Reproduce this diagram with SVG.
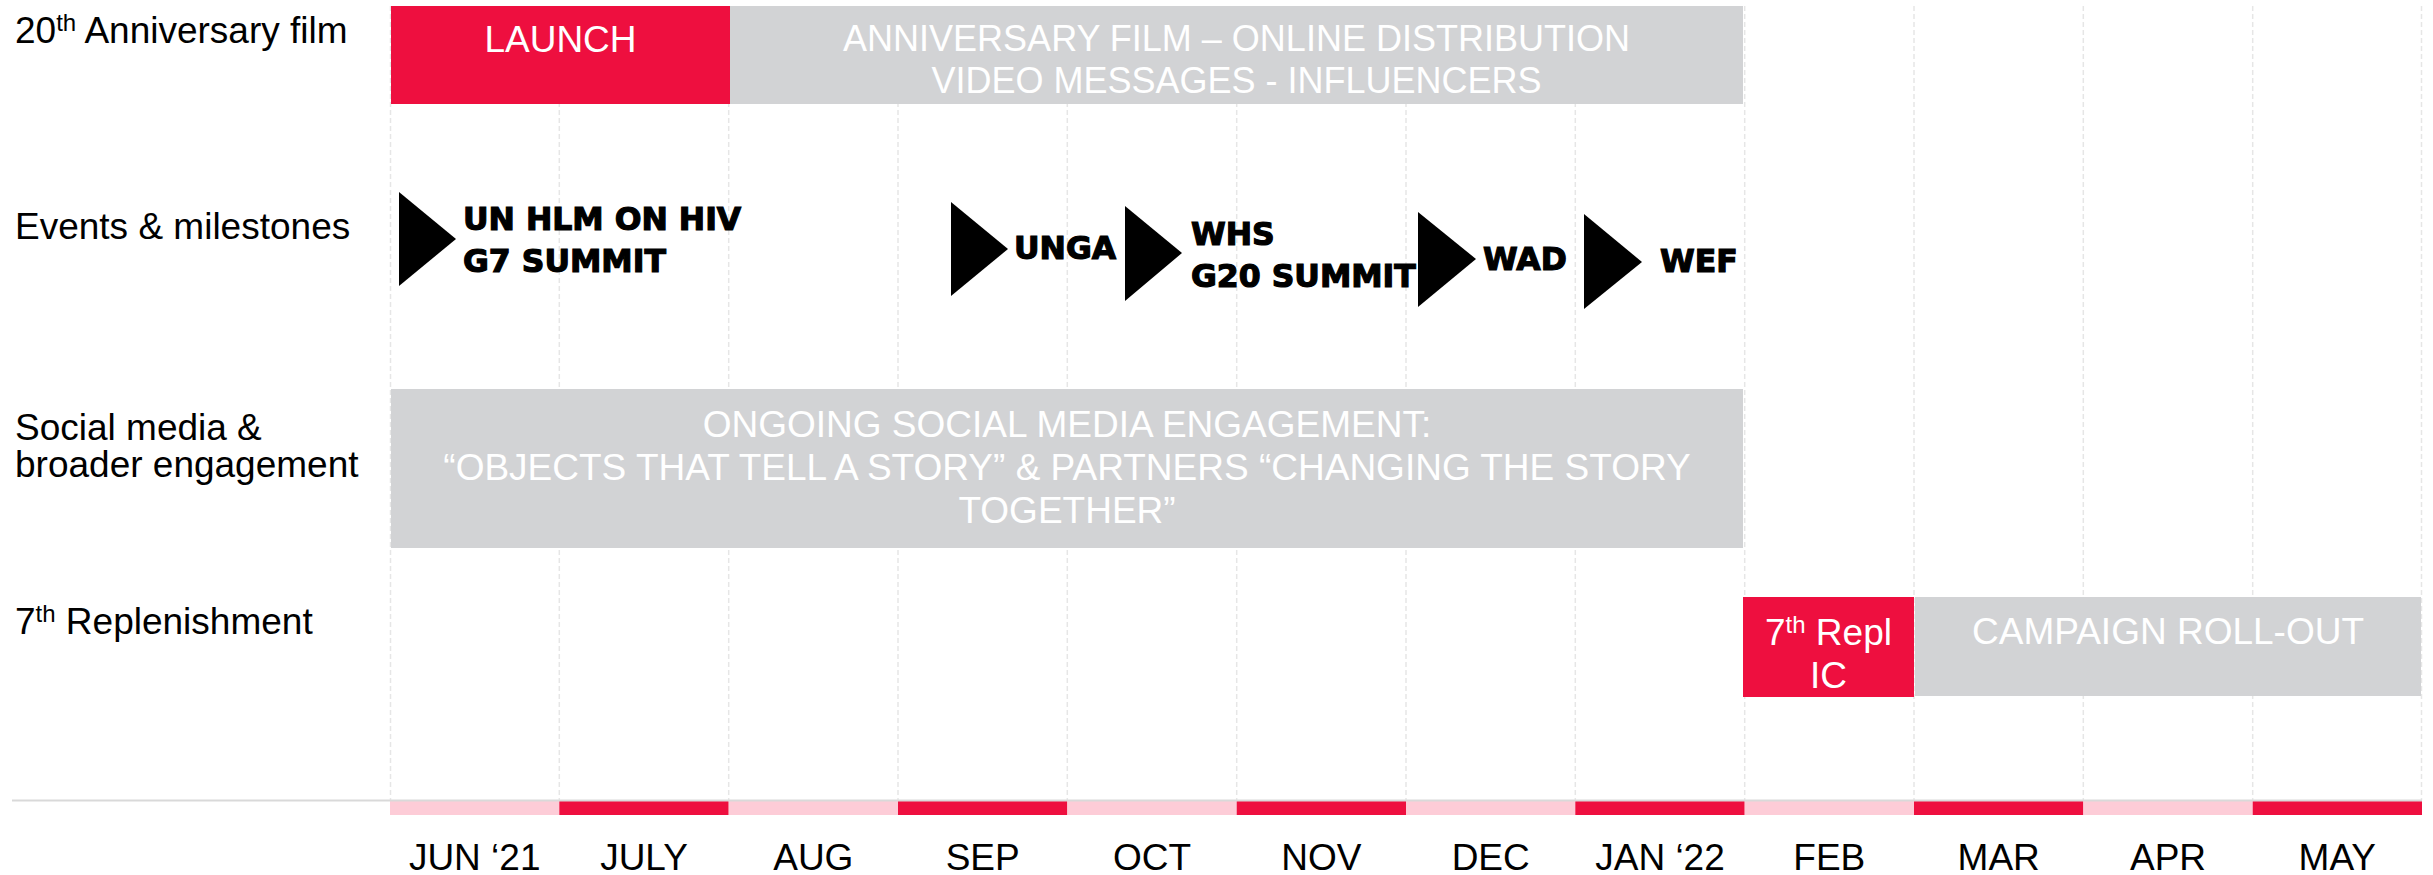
<svg xmlns="http://www.w3.org/2000/svg" width="2433" height="875" viewBox="0 0 2433 875">
<style>
text{font-family:"Liberation Sans",Arial,sans-serif;}
.lbl{font-size:37px;fill:#000;}
.box{font-size:37px;fill:#fff;text-anchor:middle;}
.box2{font-size:36px;fill:#fff;text-anchor:middle;}
.mon{font-size:37px;fill:#000;text-anchor:middle;}
.ev{font-family:"DejaVu Sans","Liberation Sans",sans-serif;font-weight:bold;font-size:31.5px;fill:#000;stroke:#000;stroke-width:1.2;}
.red{fill:#EE0F3F;}
.gray{fill:#D2D3D5;}
.pink{fill:#FDCCD7;}
.grid{stroke:#E6E6E6;stroke-width:1.5;stroke-dasharray:5 3;}
.tri{fill:#000;}
</style>

<g id="connectors">
  <g id="grid">
    <line class="grid" x1="390.5" y1="6" x2="390.5" y2="800"/>
    <line class="grid" x1="559.3" y1="6" x2="559.3" y2="800"/>
    <line class="grid" x1="728.7" y1="6" x2="728.7" y2="800"/>
    <line class="grid" x1="898" y1="6" x2="898" y2="800"/>
    <line class="grid" x1="1067.3" y1="6" x2="1067.3" y2="800"/>
    <line class="grid" x1="1236.7" y1="6" x2="1236.7" y2="800"/>
    <line class="grid" x1="1406" y1="6" x2="1406" y2="800"/>
    <line class="grid" x1="1575.3" y1="6" x2="1575.3" y2="800"/>
    <line class="grid" x1="1744.7" y1="6" x2="1744.7" y2="800"/>
    <line class="grid" x1="1914" y1="6" x2="1914" y2="800"/>
    <line class="grid" x1="2083.3" y1="6" x2="2083.3" y2="800"/>
    <line class="grid" x1="2252.7" y1="6" x2="2252.7" y2="800"/>
    <line class="grid" x1="2421.5" y1="6" x2="2421.5" y2="800"/>
  </g>
</g>

<g id="row-labels">
  <text class="lbl" x="15" y="43">20<tspan font-size="24" dy="-12">th</tspan><tspan dy="12"> Anniversary film</tspan></text>
  <text class="lbl" x="15" y="239">Events &amp; milestones</text>
  <text class="lbl" x="15" y="440">Social media &amp;</text>
  <text class="lbl" x="15" y="477">broader engagement</text>
  <text class="lbl" x="15" y="634">7<tspan font-size="24" dy="-12">th</tspan><tspan dy="12"> Replenishment</tspan></text>
</g>

<g id="launch">
  <rect class="red" x="391" y="6" width="339" height="98"/>
  <text class="box" x="560.5" y="52">LAUNCH</text>
</g>

<g id="film-distribution">
  <rect class="gray" x="730" y="6" width="1013" height="98"/>
  <text class="box2" x="1236.5" y="51">ANNIVERSARY FILM – ONLINE DISTRIBUTION</text>
  <text class="box2" x="1236.5" y="93">VIDEO MESSAGES - INFLUENCERS</text>
</g>

<g id="event-un-hlm">
  <polygon class="tri" points="399,192 456,239 399,286"/>
  <text class="ev" x="463" y="229.5">UN HLM ON HIV</text>
  <text class="ev" x="463" y="272">G7 SUMMIT</text>
</g>

<g id="event-unga">
  <polygon class="tri" points="951,202 1008,249 951,296"/>
  <text class="ev" x="1014" y="259">UNGA</text>
</g>

<g id="event-whs">
  <polygon class="tri" points="1125,206 1182,253 1125,301"/>
  <text class="ev" x="1191" y="245">WHS</text>
  <text class="ev" x="1191" y="287">G20 SUMMIT</text>
</g>

<g id="event-wad">
  <polygon class="tri" points="1418,212 1476,259 1418,307"/>
  <text class="ev" x="1483" y="270">WAD</text>
</g>

<g id="event-wef">
  <polygon class="tri" points="1584,214 1642,262 1584,309"/>
  <text class="ev" x="1660" y="271.5">WEF</text>
</g>

<g id="social-media">
  <rect class="gray" x="391" y="389" width="1352" height="159"/>
  <text class="box" x="1067" y="437">ONGOING SOCIAL MEDIA ENGAGEMENT:</text>
  <text class="box" x="1067" y="480">“OBJECTS THAT TELL A STORY” &amp; PARTNERS “CHANGING THE STORY</text>
  <text class="box" x="1067" y="523">TOGETHER”</text>
</g>

<g id="repl-ic">
  <rect class="red" x="1743" y="597" width="171" height="100"/>
  <text class="box" x="1828.5" y="645">7<tspan font-size="24" dy="-12">th</tspan><tspan dy="12"> Repl</tspan></text>
  <text class="box" x="1828.5" y="688">IC</text>
</g>

<g id="campaign-rollout">
  <rect class="gray" x="1915" y="597" width="506" height="99"/>
  <text class="box" x="2168" y="644">CAMPAIGN ROLL-OUT</text>
</g>

<g id="timeline">
  <rect class="pink" x="390" y="801" width="169.4" height="14"/>
  <rect class="red" x="559.3" y="801" width="169.4" height="14"/>
  <rect class="pink" x="728.7" y="801" width="169.4" height="14"/>
  <rect class="red" x="898" y="801" width="169.4" height="14"/>
  <rect class="pink" x="1067.3" y="801" width="169.4" height="14"/>
  <rect class="red" x="1236.7" y="801" width="169.4" height="14"/>
  <rect class="pink" x="1406" y="801" width="169.4" height="14"/>
  <rect class="red" x="1575.3" y="801" width="169.4" height="14"/>
  <rect class="pink" x="1744.7" y="801" width="169.4" height="14"/>
  <rect class="red" x="1914" y="801" width="169.4" height="14"/>
  <rect class="pink" x="2083.3" y="801" width="169.4" height="14"/>
  <rect class="red" x="2252.7" y="801" width="169.3" height="14"/>
  <line x1="12" y1="800.5" x2="2422" y2="800.5" stroke="#D9D9D9" stroke-width="2"/>
  <text class="mon" x="474.7" y="870">JUN ‘21</text>
  <text class="mon" x="644" y="870">JULY</text>
  <text class="mon" x="813.3" y="870">AUG</text>
  <text class="mon" x="982.7" y="870">SEP</text>
  <text class="mon" x="1152" y="870">OCT</text>
  <text class="mon" x="1321.3" y="870">NOV</text>
  <text class="mon" x="1490.7" y="870">DEC</text>
  <text class="mon" x="1660" y="870">JAN ‘22</text>
  <text class="mon" x="1829.3" y="870">FEB</text>
  <text class="mon" x="1998.7" y="870">MAR</text>
  <text class="mon" x="2168" y="870">APR</text>
  <text class="mon" x="2337.3" y="870">MAY</text>
</g>
</svg>
